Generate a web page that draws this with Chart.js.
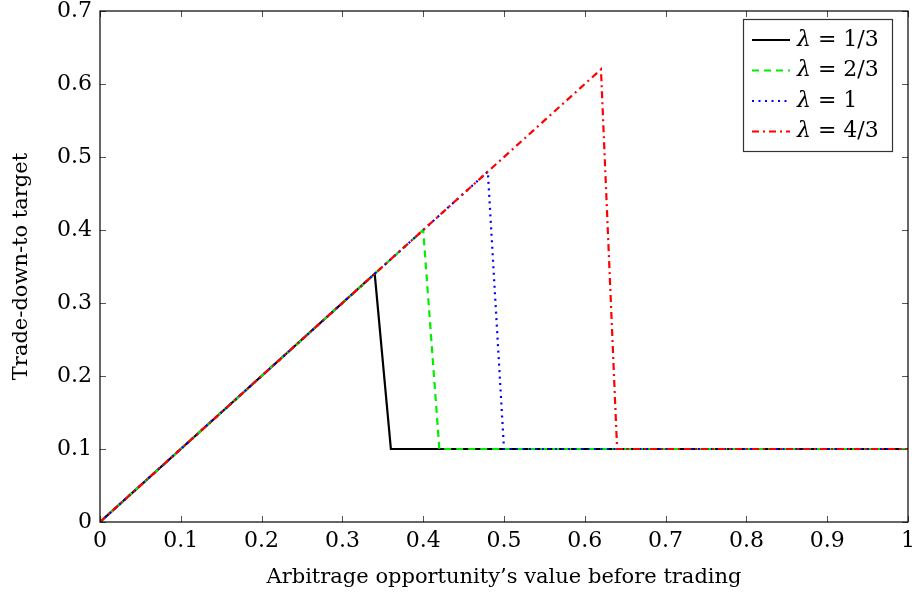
<!DOCTYPE html>
<html>
<head>
<meta charset="utf-8">
<script src="https://cdn.jsdelivr.net/npm/chart.js@4.4.0/dist/chart.umd.min.js"></script>
<style>
  html, body { margin: 0; padding: 0; background: #fff; }
</style>
</head>
<body>
<canvas id="c" width="915" height="594"></canvas>
<script>
// tick labels
const xTicks = [0, 0.1, 0.2, 0.3, 0.4, 0.5, 0.6, 0.7, 0.8, 0.9, 1];
const yTicks = [0, 0.1, 0.2, 0.3, 0.4, 0.5, 0.6, 0.7];

// series : lambda = 1/3, 2/3, 1, 4/3
const lambdaLabels = ['1/3', '2/3', '1', '4/3'];
const xLambda13 = [0, 0.34, 0.36, 1];
const yLambda13 = [0, 0.34, 0.1, 0.1];
const xLambda23 = [0, 0.40, 0.42, 1];
const yLambda23 = [0, 0.40, 0.1, 0.1];
const xLambda1  = [0, 0.48, 0.50, 1];
const yLambda1  = [0, 0.48, 0.1, 0.1];
const xLambda43 = [0, 0.62, 0.64, 1];
const yLambda43 = [0, 0.62, 0.1, 0.1];

const FONT = "'DejaVu Serif', 'Liberation Serif', serif";
const FS = 22;
const FS_TITLE = 21;

function pts(xs, ys) {
  return xs.map((x, i) => ({ x: x, y: ys[i] }));
}

// cadre, graduations vers l'intérieur et légende encadrée
const framePlugin = {
  id: 'frame',
  afterDraw(chart) {
    const { ctx, chartArea: a, scales } = chart;
    ctx.save();
    // graduations
    ctx.strokeStyle = '#555';
    ctx.lineWidth = 1;
    ctx.setLineDash([]);
    const t = 6;
    xTicks.forEach(v => {
      const px = Math.round(scales.x.getPixelForValue(v)) + 0.5;
      ctx.beginPath();
      ctx.moveTo(px, a.bottom); ctx.lineTo(px, a.bottom - t);
      ctx.moveTo(px, a.top); ctx.lineTo(px, a.top + t);
      ctx.stroke();
    });
    yTicks.forEach(v => {
      const py = Math.round(scales.y.getPixelForValue(v)) + 0.5;
      ctx.beginPath();
      ctx.moveTo(a.left, py); ctx.lineTo(a.left + t, py);
      ctx.moveTo(a.right, py); ctx.lineTo(a.right - t, py);
      ctx.stroke();
    });
    // cadre
    ctx.strokeStyle = '#000';
    ctx.lineWidth = 1.2;
    ctx.strokeRect(a.left, a.top, a.right - a.left, a.bottom - a.top);

    // légende
    const bw = 149, bh = 132;
    const bx = a.right - 16 - bw, by = a.top + 8;
    ctx.fillStyle = '#fff';
    ctx.fillRect(bx, by, bw, bh);
    ctx.strokeStyle = '#333';
    ctx.lineWidth = 1.2;
    ctx.strokeRect(bx + 0.5, by + 0.5, bw, bh);
    chart.data.datasets.forEach((ds, i) => {
      const ry = by + 21 + i * 30.5;
      ctx.strokeStyle = ds.borderColor;
      ctx.lineWidth = ds.borderWidth;
      ctx.setLineDash(ds.borderDash || []);
      ctx.beginPath();
      ctx.moveTo(bx + 9, ry); ctx.lineTo(bx + 47, ry);
      ctx.stroke();
      ctx.setLineDash([]);
      ctx.fillStyle = '#000';
      ctx.textBaseline = 'middle';
      ctx.textAlign = 'left';
      ctx.font = 'italic ' + FS + 'px ' + FONT;
      ctx.fillText('λ', bx + 54, ry);
      const w = ctx.measureText('λ').width;
      ctx.font = FS + 'px ' + FONT;
      ctx.fillText(' = ' + lambdaLabels[i], bx + 54 + w, ry);
    });
    ctx.restore();
  }
};

new Chart(document.getElementById('c'), {
  type: 'line',
  data: {
    datasets: [
      { label: 'λ = ' + lambdaLabels[0], data: pts(xLambda13, yLambda13), borderColor: '#000000', borderWidth: 2.2, order: 4 },
      { label: 'λ = ' + lambdaLabels[1], data: pts(xLambda23, yLambda23), borderColor: '#00ee00', borderWidth: 2.2, borderDash: [7, 5], order: 3 },
      { label: 'λ = ' + lambdaLabels[2], data: pts(xLambda1, yLambda1), borderColor: '#0000ff', borderWidth: 2.2, borderDash: [2, 4.5], order: 2 },
      { label: 'λ = ' + lambdaLabels[3], data: pts(xLambda43, yLambda43), borderColor: '#ff0000', borderWidth: 2.2, borderDash: [7, 4, 2, 4], order: 1 }
    ]
  },
  options: {
    responsive: false,
    animation: false,
    devicePixelRatio: 1,
    layout: { padding: { top: 11, right: 7, left: 0, bottom: 0 } },
    elements: { point: { radius: 0 }, line: { tension: 0, fill: false } },
    plugins: { legend: { display: false }, tooltip: { enabled: false } },
    scales: {
      x: {
        type: 'linear', min: 0, max: 1,
        afterBuildTicks: s => { s.ticks = xTicks.map(v => ({ value: v })); },
        afterFit: s => { s.height = 72; s.paddingLeft = 0; s.paddingRight = 0; },
        grid: { display: false, drawTicks: false },
        border: { display: false },
        ticks: { color: '#000', padding: 6, font: { family: FONT, size: FS }, callback: v => String(v), maxRotation: 0 },
        title: { display: true, text: 'Arbitrage opportunity’s value before trading', color: '#000', font: { family: FONT, size: FS_TITLE }, padding: { top: 0, bottom: 4 } }
      },
      y: {
        type: 'linear', min: 0, max: 0.7,
        afterBuildTicks: s => { s.ticks = yTicks.map(v => ({ value: v })); },
        afterFit: s => { s.width = 100; s.paddingTop = 0; s.paddingBottom = 0; },
        grid: { display: false, drawTicks: false },
        border: { display: false },
        ticks: { color: '#000', padding: 8, font: { family: FONT, size: FS }, callback: v => String(v) },
        title: { display: true, text: 'Trade-down-to target', color: '#000', font: { family: FONT, size: FS_TITLE }, padding: { top: 9, bottom: 0 } }
      }
    }
  },
  plugins: [framePlugin]
});
</script>
</body>
</html>
